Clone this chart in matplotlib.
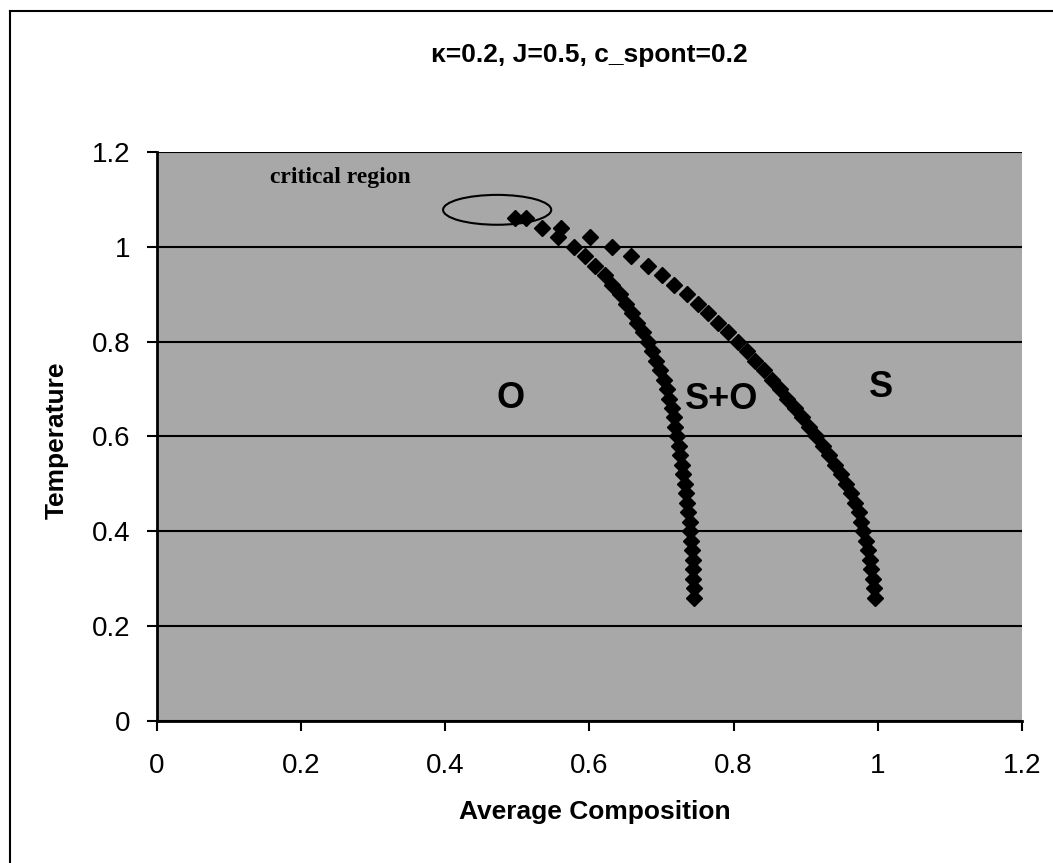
import matplotlib
matplotlib.use("Agg")
import matplotlib.pyplot as plt
from matplotlib.patches import Ellipse
from matplotlib.lines import Line2D


# DATA
temp = [1.06, 1.04, 1.02, 1.00, 0.98, 0.96, 0.94, 0.92, 0.90, 0.88,
        0.86, 0.84, 0.82, 0.80, 0.78, 0.76, 0.74, 0.72, 0.70, 0.68,
        0.66, 0.64, 0.62, 0.60, 0.58, 0.56, 0.54, 0.52, 0.50, 0.48,
        0.46, 0.44, 0.42, 0.40, 0.38, 0.36, 0.34, 0.32, 0.30, 0.28, 0.26]

comp_left = [0.497, 0.534, 0.556, 0.578, 0.594, 0.608, 0.621, 0.632, 0.642, 0.651,
             0.659, 0.666, 0.674, 0.681, 0.687, 0.693, 0.698, 0.703, 0.707, 0.711,
             0.714, 0.717, 0.719, 0.721, 0.724, 0.726, 0.728, 0.730, 0.732, 0.734,
             0.736, 0.737, 0.739, 0.740, 0.741, 0.742, 0.743, 0.744, 0.744, 0.745, 0.745]

comp_right = [0.512, 0.560, 0.601, 0.632, 0.657, 0.681, 0.700, 0.718, 0.735, 0.750,
              0.765, 0.779, 0.792, 0.806, 0.818, 0.830, 0.842, 0.853, 0.864, 0.874,
              0.885, 0.895, 0.905, 0.915, 0.924, 0.933, 0.941, 0.949, 0.956, 0.963,
              0.969, 0.974, 0.977, 0.979, 0.983, 0.986, 0.989, 0.991, 0.993, 0.995, 0.996]

ticks = [0, 0.2, 0.4, 0.6, 0.8, 1, 1.2]
tick_labels = ["0", "0.2", "0.4", "0.6", "0.8", "1", "1.2"]

region_labels = ["O", "S+O", "S"]
region_x = [0.49, 0.784, 1.004]
region_y = [0.681, 0.677, 0.703]


# FIGURE
plt.rcParams['font.family'] = ['Liberation Sans', 'DejaVu Sans']

fig = plt.figure(figsize=(10.53, 8.63), dpi=100)
ax = fig.add_axes([0.149, 0.1646, 0.8215, 0.6593])
ax.set_facecolor('#a8a8a8')

ax.plot(comp_left, temp, linestyle='none', marker='D',
        markersize=8.5, color='black')
ax.plot(comp_right, temp, linestyle='none', marker='D',
        markersize=8.5, color='black')

ax.set_xlim(0, 1.2)
ax.set_ylim(0, 1.2)
ax.set_xticks(ticks)
ax.set_xticklabels(tick_labels)
ax.set_yticks(ticks)
ax.set_yticklabels(tick_labels)

ax.grid(True, axis='y', color='black', linewidth=1.5)
ax.set_axisbelow(True)
ax.tick_params(axis='both', direction='out', length=7, width=1.5,
               labelsize=20, color='black')
ax.tick_params(axis='x', pad=16)
ax.tick_params(axis='y', pad=12)

for side in ['top', 'right']:
    ax.spines[side].set_visible(False)
for side in ['left', 'bottom']:
    ax.spines[side].set_linewidth(2)

# critical region
ell = Ellipse((0.472, 1.078), 0.15, 0.063, fill=False,
              edgecolor='black', linewidth=1.5)
ax.add_patch(ell)
ax.text(0.157, 1.146, "critical region", fontsize=17, fontweight='bold',
        family=['Liberation Serif', 'DejaVu Serif'], ha='left', va='center')

for lab, x, y in zip(region_labels, region_x, region_y):
    ax.text(x, y, lab, fontsize=26, fontweight='bold',
            ha='center', va='center')

# titles
fig.text(0.56, 0.936, "κ=0.2, J=0.5, c_spont=0.2", fontsize=19,
         fontweight='bold', ha='center', va='center')
fig.text(0.565, 0.059, "Average Composition", fontsize=19,
         fontweight='bold', ha='center', va='center')
fig.text(0.054, 0.49, "Temperature", fontsize=19, fontweight='bold',
         rotation=90, ha='center', va='center')

# border
x0 = 10 / 1053
y0 = 1 - 11 / 863
fig.add_artist(Line2D([x0, x0], [0, y0], color='black', linewidth=1.5))
fig.add_artist(Line2D([x0, 1], [y0, y0], color='black', linewidth=1.5))

plt.savefig("out.png", dpi=100)
